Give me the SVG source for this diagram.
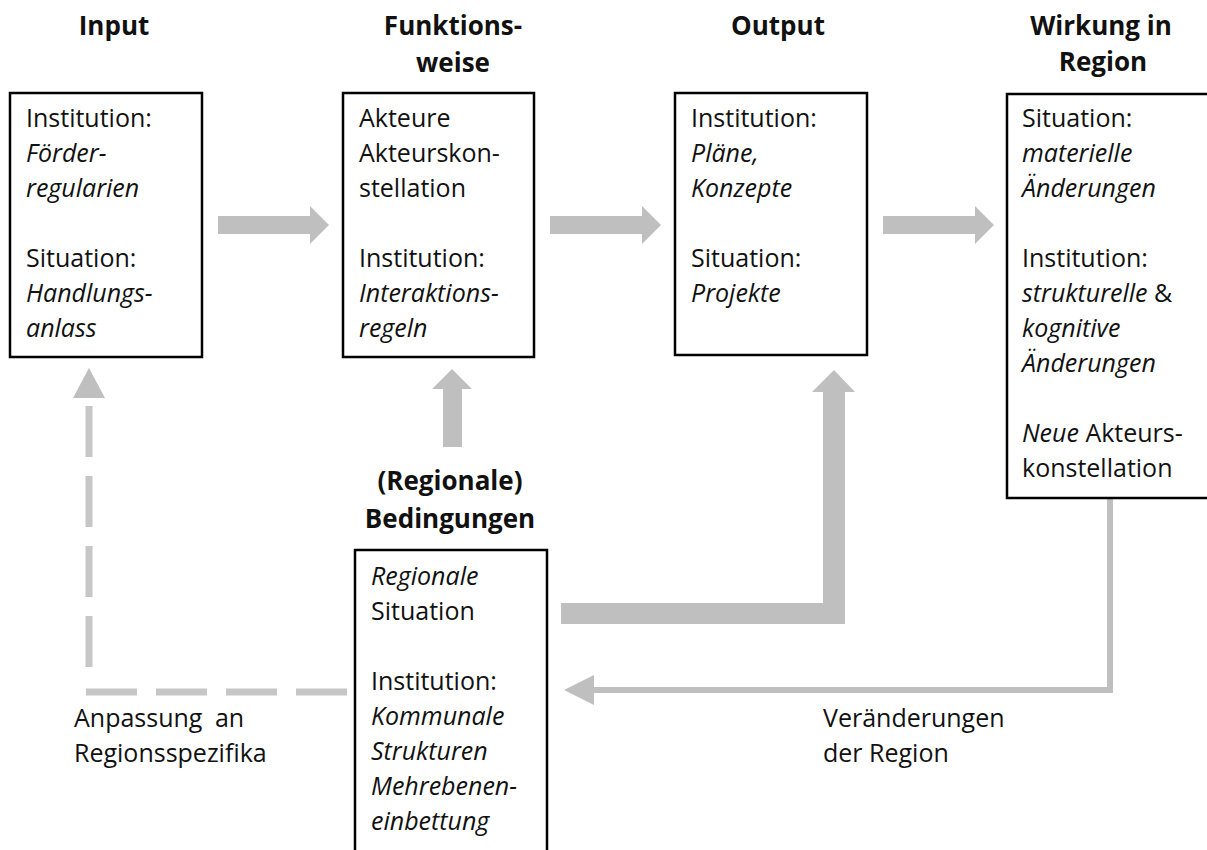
<svg xmlns="http://www.w3.org/2000/svg" width="1207" height="850" viewBox="0 0 1207 850">
<style>
  .box { fill: #ffffff; stroke: #000000; stroke-width: 2.5; }
  .title { font-family: "Open Sans", "Liberation Sans", sans-serif; font-weight: bold; font-size: 26px; fill: #111111; text-anchor: middle; }
  .body { font-family: "Open Sans", "Liberation Sans", sans-serif; font-size: 25px; fill: #111111; }
  .it { font-style: italic; }
  .block { fill: #bfbfbf; stroke: none; }
  .thin { fill: none; stroke: #bfbfbf; stroke-width: 6; }
  .dash { fill: none; stroke: #c6c6c6; stroke-width: 7; stroke-dasharray: 51 19; }
  .head { fill: #bfbfbf; stroke: none; }
</style>
<rect width="1207" height="850" fill="#ffffff"/>

<g id="connectors">
  <polygon class="block" points="218,216 310,216 310,206 329,225 310,244 310,234 218,234"/>
  <polygon class="block" points="550,216 642,216 642,206 661,225 642,244 642,234 550,234"/>
  <polygon class="block" points="883,216 975,216 975,206 994,225 975,244 975,234 883,234"/>
  <polygon class="block" points="443,447 443,389 432,389 452,369 472,389 462,389 462,447"/>
  <polygon class="block" points="561,603 823,603 823,392 812,392 834,370 855,392 845,392 845,624 561,624"/>
  <polyline class="thin" points="1110,498 1110,690 592,690"/>
  <polygon class="head" points="564,690 594,675 594,705"/>
  <line class="dash" x1="89" y1="667" x2="89" y2="405"/>
  <line class="dash" x1="347" y1="692" x2="86" y2="692"/>
  <polygon class="head" points="89,368 105,398 73,398"/>
</g>

<g id="node-input">
  <text class="title" x="114" y="35">Input</text>
  <rect class="box" x="10" y="93" width="192" height="264"/>
  <text class="body" x="26" y="127">Institution:</text>
  <text class="body it" x="26" y="162">Förder-</text>
  <text class="body it" x="26" y="197">regularien</text>
  <text class="body" x="26" y="267">Situation:</text>
  <text class="body it" x="26" y="302">Handlungs-</text>
  <text class="body it" x="26" y="337">anlass</text>
</g>

<g id="node-funktionsweise">
  <text class="title" x="453" y="35">Funktions-</text>
  <text class="title" x="453" y="72">weise</text>
  <rect class="box" x="343" y="93" width="191" height="264"/>
  <text class="body" x="359" y="127">Akteure</text>
  <text class="body" x="359" y="162">Akteurskon-</text>
  <text class="body" x="359" y="197">stellation</text>
  <text class="body" x="359" y="267">Institution:</text>
  <text class="body it" x="359" y="302">Interaktions-</text>
  <text class="body it" x="359" y="337">regeln</text>
</g>

<g id="node-output">
  <text class="title" x="778" y="35">Output</text>
  <rect class="box" x="675" y="93" width="192" height="262"/>
  <text class="body" x="691" y="127">Institution:</text>
  <text class="body it" x="691" y="162">Pläne,</text>
  <text class="body it" x="691" y="197">Konzepte</text>
  <text class="body" x="691" y="267">Situation:</text>
  <text class="body it" x="691" y="302">Projekte</text>
</g>

<g id="node-wirkung">
  <text class="title" x="1101" y="35">Wirkung in</text>
  <text class="title" x="1103" y="71">Region</text>
  <rect class="box" x="1007" y="94" width="210" height="404"/>
  <text class="body" x="1022" y="127">Situation:</text>
  <text class="body it" x="1022" y="162">materielle</text>
  <text class="body it" x="1022" y="197">Änderungen</text>
  <text class="body" x="1022" y="267">Institution:</text>
  <text class="body" x="1022" y="302"><tspan class="it">strukturelle</tspan> &amp;</text>
  <text class="body it" x="1022" y="337">kognitive</text>
  <text class="body it" x="1022" y="372">Änderungen</text>
  <text class="body" x="1022" y="442"><tspan class="it">Neue</tspan> Akteurs-</text>
  <text class="body" x="1022" y="477">konstellation</text>
</g>

<g id="node-bedingungen">
  <text class="title" x="450" y="490">(Regionale)</text>
  <text class="title" x="450" y="528">Bedingungen</text>
  <rect class="box" x="355" y="550" width="192" height="320"/>
  <text class="body it" x="371" y="585">Regionale</text>
  <text class="body" x="371" y="620">Situation</text>
  <text class="body" x="371" y="690">Institution:</text>
  <text class="body it" x="371" y="725">Kommunale</text>
  <text class="body it" x="371" y="760">Strukturen</text>
  <text class="body it" x="371" y="795">Mehrebenen-</text>
  <text class="body it" x="371" y="830">einbettung</text>
</g>

<g id="label-anpassung">
  <text class="body" x="74" y="727" word-spacing="6">Anpassung an</text>
  <text class="body" x="74" y="762">Regionsspezifika</text>
</g>

<g id="label-veraenderungen">
  <text class="body" x="823" y="727">Veränderungen</text>
  <text class="body" x="823" y="762">der Region</text>
</g>
</svg>
